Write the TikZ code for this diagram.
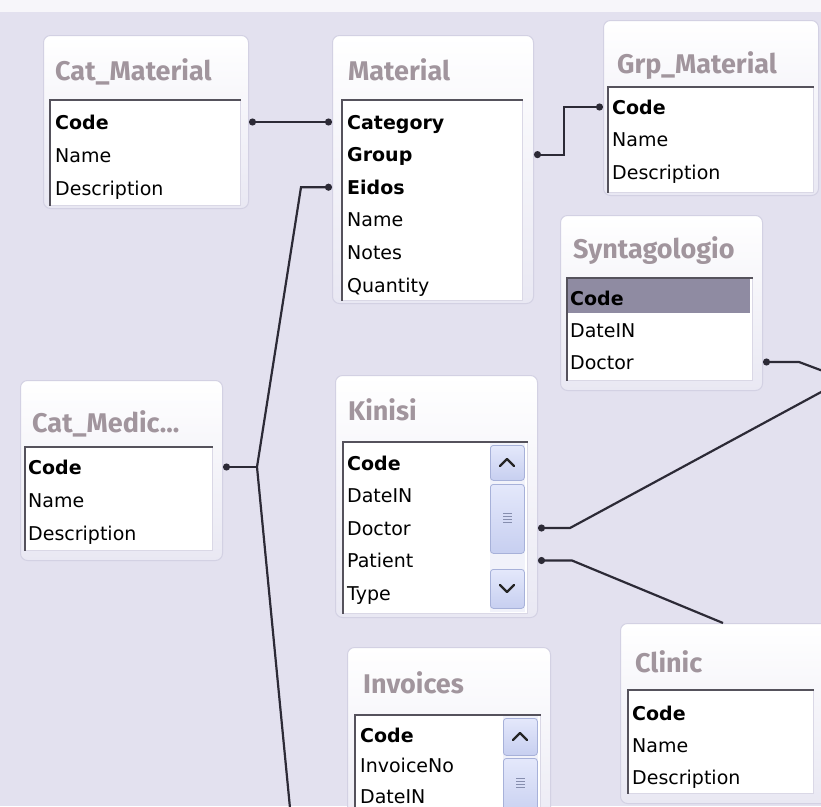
\documentclass[tikz,border=0pt]{standalone}
\usepackage{fontspec}
\setmainfont{DejaVu Sans}
\newfontfamily\captionfont{Fira Sans}
\usetikzlibrary{arrows.meta}

\definecolor{bgcol}{HTML}{E3E1EF}
\definecolor{framecol}{HTML}{E9E8F3}
\definecolor{frameline}{HTML}{D3D1E3}
\definecolor{titlecol}{HTML}{A1959D}
\definecolor{listedgecol}{HTML}{55525C}
\definecolor{listpale}{HTML}{DAD8E6}
\definecolor{linkcol}{HTML}{2C2A36}
\definecolor{selcol}{HTML}{8F8BA2}
\definecolor{btnline}{HTML}{A7B1D9}
\definecolor{btntop}{HTML}{E4E8FB}
\definecolor{btnbot}{HTML}{C7CFF0}
\definecolor{trackcol}{HTML}{F1F2FA}

\tikzset{
  frame/.style={anchor=north west, rounded corners=7pt, draw=frameline, line width=1pt,
    top color=white, bottom color=framecol, inner sep=0pt},
  caption/.style={anchor=base west, inner sep=0pt, text=titlecol,
    font=\captionfont\bfseries\fontsize{27}{27}\selectfont},
  listbox/.style={anchor=north west, fill=white, draw=listpale, line width=.8pt, inner sep=0pt},
  listedge/.style={draw=listedgecol, line width=1.3pt},
  field/.style={anchor=base west, inner sep=0pt, text height=18pt, text depth=4pt,
    font=\fontsize{19}{19}\selectfont},
  scrollbtn/.style={anchor=north west, rounded corners=3pt, draw=btnline, line width=.8pt,
    top color=btntop, bottom color=btnbot, inner sep=0pt},
  chevron/.style={draw=black!85, line width=2.4pt, line cap=round, line join=round},
  grip/.style={draw=btnline!80!black, line width=.8pt},
  link/.style={draw=linkcol, line width=2.2pt},
  dots/.style={{Circle[length=7pt]}-{Circle[length=7pt]}},
  dotstart/.style={{Circle[length=7pt]}-}
}

\begin{document}
\begin{tikzpicture}[x=1pt,y=-1pt]
\useasboundingbox (0,0) rectangle (821,806);
\clip (0,0) rectangle (821,806);

% background
\fill[bgcol] (0,0) rectangle (821,806);
\fill[white!70!bgcol] (0,0) rectangle (821,12);

% Cat_Material
\node[frame, minimum width=205pt, minimum height=173pt] (catmat) at (43,35) {};
\node[caption] (catmat-t) at (55,80) {Cat\_Material};
\node[listbox, minimum width=190pt, minimum height=105pt] (catmat-l) at (50,100) {};
\draw[listedge] (catmat-l.south west) -- (catmat-l.north west) -- (catmat-l.north east);
\foreach \f [count=\i from 0] in {\textbf{Code},Name,Description}
  \node[field] (catmat-\i) at (55,129+33*\i) {\f};

% Material
\node[frame, minimum width=201pt, minimum height=268pt] (mat) at (332,35) {};
\node[caption] (mat-t) at (348,80) {Material};
\node[listbox, minimum width=180pt, minimum height=200pt] (mat-l) at (342,100) {};
\draw[listedge] (mat-l.south west) -- (mat-l.north west) -- (mat-l.north east);
\foreach \f [count=\i from 0] in {\textbf{Category},\textbf{Group},\textbf{Eidos},Name,Notes,Quantity}
  \node[field] (mat-\i) at (347,129+32.6*\i) {\f};

% Grp_Material
\node[frame, minimum width=215pt, minimum height=175pt] (grpmat) at (603,20) {};
\node[caption] (grpmat-t) at (617,73) {Grp\_Material};
\node[listbox, minimum width=205pt, minimum height=105pt] (grpmat-l) at (608,87) {};
\draw[listedge] (grpmat-l.south west) -- (grpmat-l.north west) -- (grpmat-l.north east);
\foreach \f [count=\i from 0] in {\textbf{Code},Name,Description}
  \node[field] (grpmat-\i) at (612,114+32.5*\i) {\f};

% Syntagologio
\node[frame, minimum width=202pt, minimum height=175pt] (synt) at (560,215) {};
\node[caption] (synt-t) at (573,258) {Syntagologio};
\node[listbox, minimum width=185pt, minimum height=102pt] (synt-l) at (567,278) {};
\fill[selcol] (567,279) rectangle (750,313);
\draw[listedge] (synt-l.south west) -- (synt-l.north west) -- (synt-l.north east);
\foreach \f [count=\i from 0] in {\textbf{Code},DateIN,Doctor}
  \node[field] (synt-\i) at (570,305+32*\i) {\f};

% Cat_Medic...
\node[frame, minimum width=202pt, minimum height=180pt] (catmed) at (20,380) {};
\node[caption] (catmed-t) at (32,432) {Cat\_Medic...};
\node[listbox, minimum width=187pt, minimum height=103pt] (catmed-l) at (25,447) {};
\draw[listedge] (catmed-l.south west) -- (catmed-l.north west) -- (catmed-l.north east);
\foreach \f [count=\i from 0] in {\textbf{Code},Name,Description}
  \node[field] (catmed-\i) at (28,474+33*\i) {\f};

% Kinisi
\node[frame, minimum width=202pt, minimum height=242pt] (kinisi) at (335,375) {};
\node[caption] (kinisi-t) at (348,420) {Kinisi};
\node[listbox, minimum width=184pt, minimum height=171pt] (kinisi-l) at (343,442) {};
\fill[trackcol] (490,443) rectangle (525,612);
\draw[listedge] (kinisi-l.south west) -- (kinisi-l.north west) -- (kinisi-l.north east);
\foreach \f [count=\i from 0] in {\textbf{Code},DateIN,Doctor,Patient,Type}
  \node[field] (kinisi-\i) at (347,470+32.5*\i) {\f};
\node[scrollbtn, minimum width=34pt, minimum height=35pt] (kinisi-up) at (490,445) {};
\node[scrollbtn, minimum width=34pt, minimum height=69pt] (kinisi-thumb) at (490,484) {};
\node[scrollbtn, minimum width=34pt, minimum height=39pt] (kinisi-down) at (490,569) {};
\draw[chevron] (500,466) -- (507,459) -- (514,466);
\draw[chevron] (500,585) -- (507,592) -- (514,585);
\foreach \d in {-4.5,-1.5,1.5,4.5}
  \draw[grip] (503,518+\d) -- (512,518+\d);

% Invoices
\node[frame, minimum width=203pt, minimum height=200pt] (inv) at (347,647) {};
\node[caption] (inv-t) at (363,693) {Invoices};
\node[listbox, minimum width=185pt, minimum height=120pt] (inv-l) at (355,715) {};
\fill[trackcol] (503,716) rectangle (538,806);
\draw[listedge] (inv-l.south west) -- (inv-l.north west) -- (inv-l.north east);
\foreach \f [count=\i from 0] in {\textbf{Code},InvoiceNo,DateIN}
  \node[field] (inv-\i) at (360,742+30.5*\i) {\f};
\node[scrollbtn, minimum width=34pt, minimum height=37pt] (inv-up) at (503,718) {};
\node[scrollbtn, minimum width=34pt, minimum height=60pt] (inv-thumb) at (503,758) {};
\draw[chevron] (513,740) -- (520,733) -- (527,740);
\foreach \d in {-4.5,-1.5,1.5,4.5}
  \draw[grip] (516,783+\d) -- (525,783+\d);

% Clinic
\node[frame, minimum width=210pt, minimum height=180pt] (clinic) at (620,623) {};
\node[caption] (clinic-t) at (635,672) {Clinic};
\node[listbox, minimum width=185pt, minimum height=103pt] (clinic-l) at (628,690) {};
\draw[listedge] (clinic-l.south west) -- (clinic-l.north west) -- (clinic-l.north east);
\foreach \f [count=\i from 0] in {\textbf{Code},Name,Description}
  \node[field] (clinic-\i) at (632,720+32*\i) {\f};

% relationship lines
\coordinate (junc) at (257,467);
\coordinate (southend) at (290,808);
\coordinate (eastA) at (823,371);
\coordinate (eastB) at (823,391);

\draw[link, dots] (catmat.east |- catmat-0) -- (mat.west |- mat-0);
\draw[link, dots] (mat.east |- mat-1) -- ++(30,0) |- (grpmat.west |- grpmat-0);
\draw[link, dotstart] (mat.west |- mat-2) -- ++(-31,0) -- (junc) -- (southend);
\draw[link, dotstart] (catmed.east |- catmed-0) -- (junc);
\draw[link, dotstart] (synt.east |- synt-2) -- ++(36,0) -- (eastA);
\draw[link, dotstart] (kinisi.east |- kinisi-2) -- ++(32,0) -- (eastB);
\draw[link, dotstart] (kinisi.east |- kinisi-3) -- ++(34,0) -- ([xshift=103pt]clinic.north west);
\end{tikzpicture}
\end{document}
